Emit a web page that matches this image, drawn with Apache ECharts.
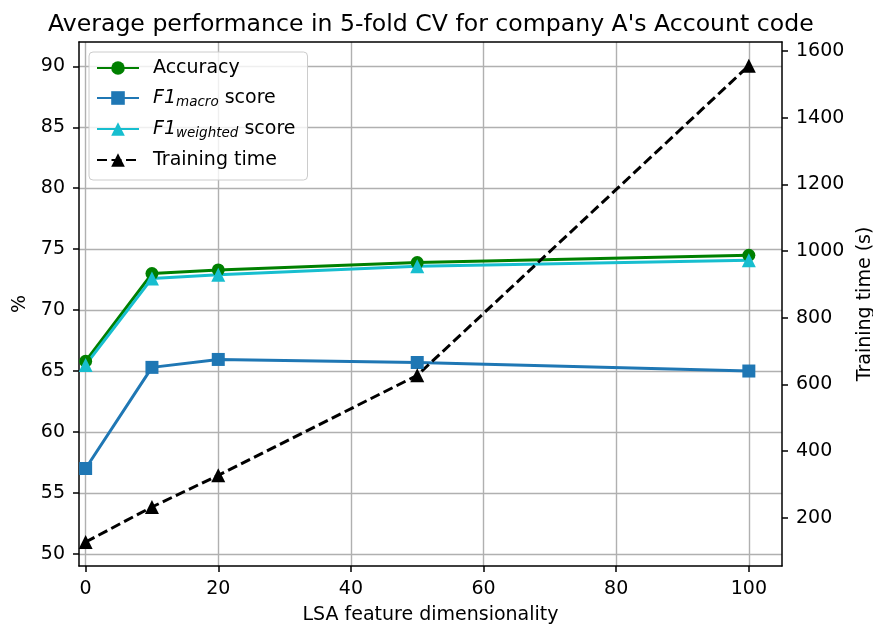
<!DOCTYPE html>
<html>
<head>
<meta charset="utf-8">
<script src="https://cdn.jsdelivr.net/npm/echarts@6/dist/echarts.min.js"></script>
<style>
html,body{margin:0;padding:0;background:#fff;}
#chart{width:873px;height:626px;}
</style>
</head>
<body>
<div id="chart"></div>
<script>
const xValues = [0, 10, 20, 50, 100];
const accuracy = [65.8, 73.0, 73.3, 73.9, 74.5];
const f1Macro = [57.0, 65.3, 65.95, 65.7, 65.0];
const f1Weighted = [65.5, 72.6, 72.9, 73.6, 74.1];
const trainingTime = [127, 232, 327, 627, 1556];
const xTicks = [0, 20, 40, 60, 80, 100];
const leftTicks = [50, 55, 60, 65, 70, 75, 80, 85, 90];
const rightTicks = [200, 400, 600, 800, 1000, 1200, 1400, 1600];

const FONT = 'DejaVu Sans';
const FS = 19;
const pairs = arr => xValues.map((x, i) => [x, arr[i]]);

const chart = echarts.init(document.getElementById('chart'), null, {renderer: 'canvas'});
const axisLineStyle = {color: '#000', width: 1.5};
const tickStyle = {show: true, length: 6, lineStyle: {color: '#000', width: 1.5}};
const labelStyle = {color: '#000', fontFamily: FONT, fontSize: FS, formatter: v => String(v)};
const gridLine = {show: true, showMinLine: true, showMaxLine: true, lineStyle: {color: '#b0b0b0', width: 1.4}};

const option = {
  animation: false,
  backgroundColor: '#fff',
  title: {
    text: "Average performance in 5-fold CV for company A's Account code",
    left: 43, top: 8,
    textStyle: {fontFamily: FONT, fontSize: 23.6, fontWeight: 'normal', color: '#000'}
  },
  grid: {left: 79, right: 91, top: 42, bottom: 60, containLabel: false, outerBoundsMode: 'none'},
  legend: {
    left: 89, top: 52, orient: 'vertical',
    selectedMode: false,
    backgroundColor: 'rgba(255,255,255,0.8)',
    borderColor: '#cccccc', borderWidth: 1, borderRadius: 4,
    padding: [6, 12, 10, 7],
    itemWidth: 42, itemHeight: 17, itemGap: 10,
    textStyle: {
      fontFamily: FONT, fontSize: FS, color: '#000', lineHeight: 20, padding: [0, 0, 0, 9],
      rich: {
        it: {fontFamily: FONT, fontSize: FS, fontStyle: 'italic', color: '#000'},
        sub: {fontFamily: FONT, fontSize: 13.5, fontStyle: 'italic', color: '#000', padding: [8, 0, 0, 0]},
        n: {fontFamily: FONT, fontSize: FS, color: '#000'}
      }
    },
    formatter: function (name) {
      if (name === 'F1_macro') return '{it|F1}{sub|macro}{n| score}';
      if (name === 'F1_weighted') return '{it|F1}{sub|weighted}{n| score}';
      return name;
    },
    data: ['Accuracy', 'F1_macro', 'F1_weighted', 'Training time']
  },
  xAxis: [{
    type: 'value', min: -1, max: 105, minInterval: 20, maxInterval: 20,
    position: 'bottom',
    name: 'LSA feature dimensionality', nameLocation: 'middle', nameGap: 40,
    nameTextStyle: {fontFamily: FONT, fontSize: FS, color: '#000'},
    axisLine: {show: true, onZero: false, lineStyle: axisLineStyle},
    axisTick: Object.assign({customValues: xTicks}, tickStyle),
    axisLabel: Object.assign({customValues: xTicks, margin: 14}, labelStyle),
    splitLine: gridLine
  }, {
    type: 'value', min: -1, max: 105, position: 'top',
    axisLine: {show: true, onZero: false, lineStyle: axisLineStyle},
    axisTick: {show: false}, axisLabel: {show: false}, splitLine: {show: false}
  }],
  yAxis: [{
    type: 'value', min: 49, max: 92, minInterval: 5, maxInterval: 5, position: 'left',
    name: '%', nameLocation: 'middle', nameGap: 44, nameRotate: 90,
    nameTextStyle: {fontFamily: FONT, fontSize: FS, color: '#000'},
    axisLine: {show: true, onZero: false, lineStyle: axisLineStyle},
    axisTick: Object.assign({customValues: leftTicks}, tickStyle),
    axisLabel: Object.assign({customValues: leftTicks, margin: 14}, labelStyle),
    splitLine: gridLine
  }, {
    type: 'value', min: 55, max: 1627, minInterval: 200, maxInterval: 200, position: 'right',
    name: 'Training time (s)', nameLocation: 'middle', nameGap: 69, nameRotate: 90,
    nameTextStyle: {fontFamily: FONT, fontSize: FS, color: '#000'},
    axisLine: {show: true, onZero: false, lineStyle: axisLineStyle},
    axisTick: Object.assign({customValues: rightTicks}, tickStyle),
    axisLabel: Object.assign({customValues: rightTicks, margin: 14}, labelStyle),
    splitLine: {show: false}
  }],
  series: [{
    name: 'Accuracy', type: 'line', data: pairs(accuracy), yAxisIndex: 0,
    symbol: 'circle', symbolSize: 13,
    lineStyle: {color: '#008000', width: 3},
    itemStyle: {color: '#008000'}
  }, {
    name: 'F1_macro', type: 'line', data: pairs(f1Macro), yAxisIndex: 0,
    symbol: 'rect', symbolSize: 13,
    lineStyle: {color: '#1f77b4', width: 3},
    itemStyle: {color: '#1f77b4'}
  }, {
    name: 'F1_weighted', type: 'line', data: pairs(f1Weighted), yAxisIndex: 0,
    symbol: 'triangle', symbolSize: 14,
    lineStyle: {color: '#17becf', width: 3},
    itemStyle: {color: '#17becf'}
  }, {
    name: 'Training time', type: 'line', data: pairs(trainingTime), yAxisIndex: 1,
    symbol: 'triangle', symbolSize: 14,
    lineStyle: {color: '#000', width: 3, type: [10, 4.5]},
    itemStyle: {color: '#000'}
  }]
};
chart.setOption(option);
</script>
</body>
</html>
